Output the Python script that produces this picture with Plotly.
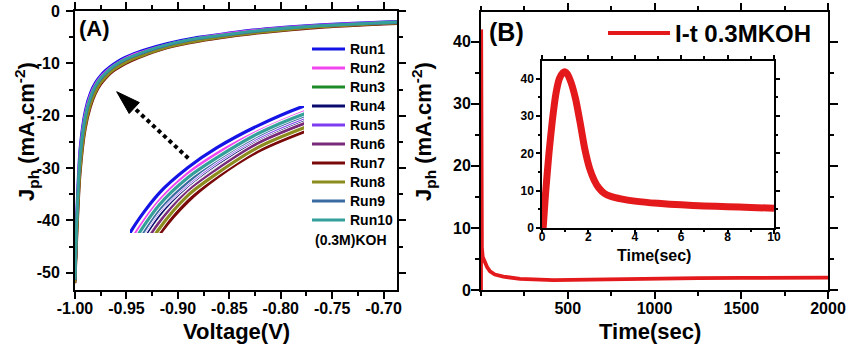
import math
import plotly.graph_objects as go

W, H = 850, 348
FONT = "Liberation Sans, Arial, Helvetica, sans-serif"

# ---------------- Panel A data (J-V, 10 runs) ----------------
VOLTAGE = [-1.000, -0.998, -0.995, -0.990, -0.985, -0.980, -0.975, -0.970, -0.963, -0.955,
           -0.945, -0.930, -0.910, -0.880, -0.850, -0.820, -0.790, -0.760, -0.730, -0.700, -0.687]
RUN1 = [-51.0, -37.0, -26.0, -19.0, -15.6, -13.6, -12.3, -11.3, -10.2, -9.2, -8.3, -7.3, -6.2, -5.0, -4.2, -3.5, -3.0, -2.6, -2.3, -2.1, -2.0]
RUN2 = [-51.2, -38.0, -27.0, -19.7, -16.1, -14.0, -12.6, -11.6, -10.5, -9.5, -8.5, -7.5, -6.4, -5.2, -4.3, -3.6, -3.1, -2.7, -2.4, -2.2, -2.1]
RUN3 = [-51.6, -40.0, -29.0, -21.1, -17.2, -14.9, -13.3, -12.2, -11.0, -10.0, -9.0, -7.9, -6.7, -5.5, -4.6, -3.9, -3.4, -2.9, -2.6, -2.3, -2.2]
RUN4 = [-51.5, -39.5, -28.5, -20.8, -17.0, -14.7, -13.2, -12.1, -10.9, -9.9, -8.9, -7.8, -6.6, -5.4, -4.6, -3.9, -3.3, -2.9, -2.6, -2.3, -2.2]
RUN5 = [-51.5, -39.3, -28.3, -20.6, -16.8, -14.5, -13.1, -12.0, -10.8, -9.8, -8.8, -7.8, -6.6, -5.4, -4.5, -3.8, -3.3, -2.8, -2.5, -2.3, -2.2]
RUN6 = [-51.7, -40.5, -29.5, -21.5, -17.5, -15.1, -13.5, -12.4, -11.1, -10.1, -9.1, -8.0, -6.8, -5.6, -4.7, -4.0, -3.4, -3.0, -2.7, -2.4, -2.3]
RUN7 = [-52.0, -42.0, -31.0, -22.5, -18.3, -15.7, -14.0, -12.8, -11.5, -10.5, -9.5, -8.3, -7.0, -5.8, -4.9, -4.2, -3.6, -3.1, -2.8, -2.5, -2.4]
RUN8 = [-51.9, -41.3, -30.3, -22.0, -17.9, -15.4, -13.7, -12.6, -11.3, -10.3, -9.3, -8.2, -6.9, -5.7, -4.8, -4.1, -3.5, -3.0, -2.7, -2.4, -2.3]
RUN9 = [-51.4, -39.0, -28.0, -20.4, -16.7, -14.4, -13.0, -11.9, -10.7, -9.7, -8.8, -7.7, -6.5, -5.3, -4.5, -3.8, -3.2, -2.8, -2.5, -2.3, -2.2]
RUN10 = [-51.3, -38.5, -27.5, -20.1, -16.4, -14.2, -12.8, -11.8, -10.6, -9.6, -8.7, -7.6, -6.4, -5.2, -4.4, -3.7, -3.2, -2.8, -2.5, -2.2, -2.1]
RUNS = [RUN1, RUN2, RUN3, RUN4, RUN5, RUN6, RUN7, RUN8, RUN9, RUN10]
RUN_NAMES = ["Run1", "Run2", "Run3", "Run4", "Run5", "Run6", "Run7", "Run8", "Run9", "Run10"]
RUN_COLORS = ["#1414e6", "#f046f0", "#1f8a2a", "#0a0a6e", "#7d3cf0",
              "#7a2a7a", "#7a0a0a", "#8c8c1e", "#3a6aa0", "#35a09a"]

A_XTICKVALS = [-1.00, -0.95, -0.90, -0.85, -0.80, -0.75, -0.70]
A_XTICKTEXT = ["-1.00", "-0.95", "-0.90", "-0.85", "-0.80", "-0.75", "-0.70"]
A_YTICKVALS = [0, -10, -20, -30, -40, -50]
A_YTICKTEXT = ["0", "-10", "-20", "-30", "-40", "-50"]

# ---------------- Panel B data (I-t) ----------------
TIME_MAIN = [0, 1, 2.5, 5, 10, 20, 35, 52, 80, 129, 225, 418, 611, 800, 1000, 1250, 1500, 1750, 2000]
J_MAIN = [0, 42.0, 9.5, 6.8, 5.3, 4.5, 3.7, 3.0, 2.5, 2.15, 1.8, 1.6, 1.7, 1.75, 1.85, 1.9, 1.95, 2.0, 2.0]
TIME_INSET = [0.05, 0.15, 0.3, 0.45, 0.6, 0.75, 0.9, 1.0, 1.1, 1.25, 1.45, 1.65, 1.85, 2.05,
              2.25, 2.45, 2.7, 3.0, 3.4, 4.0, 5.0, 6.0, 7.0, 8.0, 9.0, 10.0]
J_INSET = [0, 9, 20, 29, 36, 40, 41.6, 41.8, 41.2, 39, 34.5, 28, 21, 16,
           12.8, 10.7, 9.2, 8.4, 7.8, 7.2, 6.6, 6.2, 5.9, 5.7, 5.5, 5.3]
B_XTICKVALS = [500, 1000, 1500, 2000]
B_YTICKVALS = [0, 10, 20, 30, 40]
INSET_XTICKVALS = [0, 2, 4, 6, 8, 10]
INSET_YTICKVALS = [0, 10, 20, 30, 40]
RED = "#e3191c"


def pxx(px):
    return px / W


def pxy(py):
    return 1 - py / H


fig = go.Figure()

# main J-V curves
for name, run, col in zip(RUN_NAMES, RUNS, RUN_COLORS):
    fig.add_trace(go.Scatter(
        x=VOLTAGE, y=run, mode="lines",
        name='<span style="font-size:14px">%s</span>' % name,
        line=dict(color=col, width=2.8, shape="spline", smoothing=0.8),
        xaxis="x", yaxis="y", legend="legend", showlegend=True))

# magnified view of the knee (no axes)
for run, col in zip(RUNS, RUN_COLORS):
    fig.add_trace(go.Scatter(
        x=VOLTAGE, y=run, mode="lines", showlegend=False, hoverinfo="skip",
        line=dict(color="white", width=5, shape="spline", smoothing=0.8),
        xaxis="x3", yaxis="y3"))
    fig.add_trace(go.Scatter(
        x=VOLTAGE, y=run, mode="lines", showlegend=False,
        line=dict(color=col, width=3.2, shape="spline", smoothing=0.8),
        xaxis="x3", yaxis="y3"))

# I-t main
fig.add_trace(go.Scatter(
    x=TIME_MAIN, y=J_MAIN, mode="lines", name="I-t 0.3MKOH",
    line=dict(color=RED, width=3.8),
    xaxis="x2", yaxis="y2", legend="legend2", showlegend=True))
# I-t inset
fig.add_trace(go.Scatter(
    x=TIME_INSET, y=J_INSET, mode="lines", showlegend=False,
    line=dict(color=RED, width=7, shape="spline", smoothing=0.6),
    xaxis="x4", yaxis="y4"))


def axis_style(size=16, ticklen=7, width=2, standoff=0):
    return dict(
        showline=True, linecolor="black", linewidth=width, mirror="ticks",
        ticks="outside", ticklen=ticklen, tickwidth=width, tickcolor="black",
        showgrid=False, zeroline=False, automargin=False,
        ticklabelstandoff=standoff,
        tickfont=dict(family=FONT, size=size, color="black", weight="bold"),
    )


xa = axis_style(standoff=-4)
xa.update(domain=[pxx(75), pxx(397)], range=[-1.0, -0.687], anchor="y",
          tickmode="array", tickvals=A_XTICKVALS, ticktext=A_XTICKTEXT,
          minor=dict(tickmode="linear", tick0=-1.0, dtick=0.025, ticks="outside",
                     ticklen=4, tickwidth=2, tickcolor="black"))
ya = axis_style(standoff=3)
ya.update(domain=[pxy(290), pxy(11)], range=[-53.3, 0], anchor="x",
          tickmode="array", tickvals=A_YTICKVALS, ticktext=A_YTICKTEXT,
          minor=dict(tickmode="linear", tick0=0, dtick=5, ticks="outside",
                     ticklen=4, tickwidth=2, tickcolor="black"))

xb = axis_style(standoff=-4)
xb.update(domain=[pxx(481), pxx(828)], range=[0, 2000], anchor="y2",
          tickmode="array", tickvals=B_XTICKVALS,
          minor=dict(tickmode="linear", tick0=0, dtick=250, ticks="outside",
                     ticklen=4, tickwidth=2, tickcolor="black"))
yb = axis_style(ticklen=8, standoff=-3)
yb.update(domain=[pxy(290), pxy(12)], range=[0, 44.8], anchor="x2",
          tickmode="array", tickvals=B_YTICKVALS,
          minor=dict(tickmode="linear", tick0=0, dtick=5, ticks="outside",
                     ticklen=4, tickwidth=2, tickcolor="black"))

xi = axis_style(size=12, ticklen=4, width=1.5, standoff=-7)
xi.update(domain=[pxx(542), pxx(774)], range=[0, 10], anchor="y4",
          tickmode="array", tickvals=INSET_XTICKVALS,
          minor=dict(tickmode="linear", tick0=0, dtick=1, ticks="outside",
                     ticklen=2.5, tickwidth=1.5, tickcolor="black"))
yi = axis_style(size=12, ticklen=4, width=1.5, standoff=0)
yi.update(domain=[pxy(228), pxy(60.7)], range=[0, 44.8], anchor="x4",
          tickmode="array", tickvals=INSET_YTICKVALS,
          minor=dict(tickmode="linear", tick0=0, dtick=5, ticks="outside",
                     ticklen=2.5, tickwidth=1.5, tickcolor="black"))

xz = dict(domain=[pxx(130), pxx(304)], range=[-0.985, -0.955], visible=False,
          anchor="y3", showgrid=False, zeroline=False)
yz = dict(domain=[pxy(233), pxy(106)], range=[-15.6, -9.2], visible=False,
          anchor="x3", showgrid=False, zeroline=False)

# arrow (dotted shaft + filled head), positioned in pixels
tip = (116.7, 91.7)
tail = (188.3, 158.3)
dx, dy = tip[0] - tail[0], tip[1] - tail[1]
L = math.hypot(dx, dy)
ux, uy = dx / L, dy / L
head_len, head_half = 24, 7.5
bx, by = tip[0] - head_len * ux, tip[1] - head_len * uy
c1 = (bx - head_half * uy, by + head_half * ux)
c2 = (bx + head_half * uy, by - head_half * ux)
head_path = "M %f,%f L %f,%f L %f,%f Z" % (
    pxx(tip[0]), pxy(tip[1]), pxx(c1[0]), pxy(c1[1]), pxx(c2[0]), pxy(c2[1]))

shapes = [
    dict(type="line", xref="paper", yref="paper",
         x0=pxx(tail[0]), y0=pxy(tail[1]), x1=pxx(bx + 2 * ux), y1=pxy(by + 2 * uy),
         line=dict(color="black", width=4, dash="4px,3.5px")),
    dict(type="path", xref="paper", yref="paper", path=head_path,
         fillcolor="black", line=dict(color="black", width=1)),
]


def ann(text, x, y, size, xanchor="center", yanchor="middle", angle=0):
    return dict(text=text, x=pxx(x), y=pxy(y), xref="paper", yref="paper",
                showarrow=False, xanchor=xanchor, yanchor=yanchor, textangle=angle,
                font=dict(family=FONT, size=size, color="black", weight="bold"))


annotations = [
    ann("(A)", 77, 28, 22, xanchor="left"),
    ann("(B)", 487, 32, 25, xanchor="left"),
    ann("Voltage(V)", 236, 331, 22),
    ann("Time(sec)", 650, 331, 22),
    ann("Time(sec)", 654, 255, 16),
    ann("J<sub>ph</sub> (mA.cm<sup>-2</sup>)", 26, 132, 22, angle=-90),
    ann("J<sub>ph</sub> (mA.cm<sup>-2</sup>)", 423, 132, 22, angle=-90),
    ann("(0.3M)KOH", 313, 240, 14, xanchor="left"),
]

fig.update_layout(
    width=W, height=H, autosize=False,
    margin=dict(l=0, r=0, t=0, b=0, pad=0),
    paper_bgcolor="white", plot_bgcolor="white",
    font=dict(family=FONT, color="black"),
    xaxis=xa, yaxis=ya, xaxis2=xb, yaxis2=yb, xaxis3=xz, yaxis3=yz,
    xaxis4=xi, yaxis4=yi,
    legend=dict(x=pxx(307), y=pxy(34.5), xanchor="left", yanchor="top",
                bgcolor="rgba(0,0,0,0)", borderwidth=0, itemwidth=33,
                tracegroupgap=0,
                font=dict(family=FONT, size=12.3, color="black", weight="bold")),
    legend2=dict(x=pxx(603), y=pxy(10.9), xanchor="left", yanchor="top",
                 bgcolor="rgba(0,0,0,0)", borderwidth=0, itemwidth=62,
                 font=dict(family=FONT, size=24, color="black", weight="bold")),
    shapes=shapes, annotations=annotations,
    showlegend=True,
)

fig.write_html("out.html")
